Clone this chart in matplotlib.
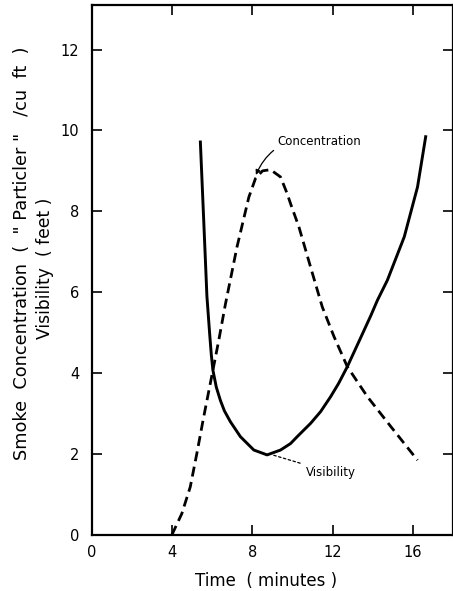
import numpy as np
import matplotlib
matplotlib.use("Agg")
import matplotlib.pyplot as plt

# Visibility (feet) vs time (minutes) - solid curve
vis_t = [5.4, 5.57, 5.73, 5.87, 5.95, 6.03, 6.2, 6.4, 6.6, 6.9, 7.4, 8.07, 8.73, 9.4, 9.9, 10.23,
         10.9, 11.4, 11.9, 12.3, 12.73, 13.4, 13.9, 14.23, 14.73, 15.57, 16.23, 16.65]
vis_y = [9.75, 7.78, 5.9, 4.95, 4.45, 4.07, 3.65, 3.33, 3.07, 2.8, 2.43, 2.1, 1.98, 2.1, 2.26, 2.43,
         2.76, 3.05, 3.42, 3.75, 4.16, 4.88, 5.42, 5.8, 6.3, 7.37, 8.6, 9.88]

# Smoke concentration vs time (minutes) - dashed curve
con_t = [3.98, 4.48, 4.9, 5.23, 5.57, 5.9, 6.32, 6.65, 7.23, 7.82, 8.15, 8.5, 8.9, 9.4,
         9.73, 9.9, 10.32, 10.9, 11.48, 12.07, 12.73, 13.73, 14.9, 16.23]
con_y = [0.0, 0.53, 1.19, 2.02, 2.92, 3.75, 4.81, 5.7, 7.12, 8.35, 8.81, 9.0, 9.03, 8.85,
         8.44, 8.19, 7.61, 6.62, 5.64, 4.9, 4.16, 3.42, 2.68, 1.85]

xticks = [0, 4, 8, 12, 16]
xtick_labels = ["0", "4", "8", "12", "16"]
yticks = [0, 2, 4, 6, 8, 10, 12]

fig = plt.figure(figsize=(4.53, 5.91), dpi=100)
ax = fig.add_axes([92/453, 56/591, (453-92)/453, (535-5)/591])

ax.plot(vis_t, vis_y, color="black", lw=2.1, solid_capstyle="butt", solid_joinstyle="round")
ax.plot(con_t, con_y, color="black", lw=2.0, dashes=(3.6, 2.0))

ax.set_xlim(0, 18)
ax.set_ylim(0, 13.1)
ax.set_xticks(xticks)
ax.set_xticklabels(xtick_labels)
ax.set_yticks(yticks)
ax.tick_params(direction="in", length=7.5, width=1.2, labelsize=10.5, top=True, right=True)
ax.tick_params(axis="y", pad=9)
ax.tick_params(axis="x", pad=7)
for s in ax.spines.values():
    s.set_linewidth(1.6)

ax.annotate("Concentration", xy=(8.17, 8.9), xytext=(9.25, 9.72),
            fontsize=8.5, ha="left", va="center",
            arrowprops=dict(arrowstyle="-|>", color="black", lw=0.9,
                            connectionstyle="arc3,rad=0.4", shrinkA=1, shrinkB=0,
                            mutation_scale=7))
ax.annotate("Visibility", xy=(9.0, 1.98), xytext=(10.65, 1.55),
            fontsize=8.5, ha="left", va="center",
            arrowprops=dict(arrowstyle="-", color="black", lw=0.9, ls=(0, (2, 2)),
                            shrinkA=2, shrinkB=0))

ax.set_xlabel("Time  ( minutes )", fontsize=12)
ax.xaxis.set_label_coords((266 - 92) / 361, -37 / 530)
fig.text(0.048, 0.571, 'Smoke  Concentration  (  " Particler "   /cu  ft  )', rotation=90,
         fontsize=12.8, ha="center", va="center")
fig.text(0.1, 0.546, "Visibility  ( feet )", rotation=90, fontsize=12.3,
         ha="center", va="center")

fig.savefig("out.png", dpi=100)
